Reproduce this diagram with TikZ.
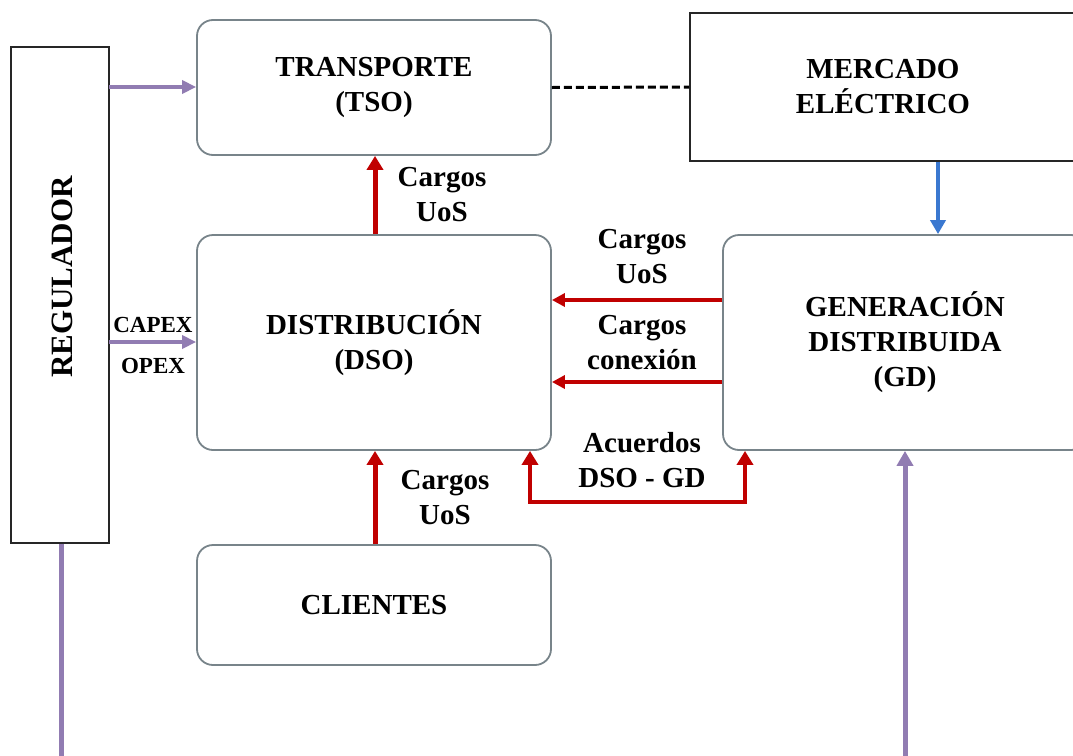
\documentclass[tikz,border=0pt]{standalone}
\usepackage{fontspec}
\setmainfont{Liberation Serif}
\usetikzlibrary{arrows.meta}
\definecolor{boxgray}{RGB}{120,132,138}
\definecolor{redarr}{RGB}{192,0,0}
\definecolor{purarr}{RGB}{145,124,178}
\definecolor{bluearr}{RGB}{58,120,208}
\tikzset{
  rbox/.style={draw=boxgray, line width=1.8pt, rounded corners=16pt, fill=white, inner sep=0pt, align=center, font=\fontsize{29}{35}\selectfont\bfseries},
  sbox/.style={draw=black!85, line width=1.6pt, fill=white, inner sep=0pt, align=center, font=\fontsize{29}{35}\selectfont\bfseries},
  lbl/.style={inner sep=0pt, align=center, font=\fontsize{29}{35}\selectfont\bfseries},
  slbl/.style={inner sep=0pt, align=center, font=\fontsize{23}{28}\selectfont\bfseries},
  redarrow/.style={draw=redarr, line width=5pt, -{Triangle[length=14pt,width=16pt]}},
  redthin/.style={draw=redarr, line width=3.5pt, -{Triangle[length=13pt,width=13pt]}},
  redboth/.style={draw=redarr, line width=4pt, {Triangle[length=14pt,width=16pt]}-{Triangle[length=14pt,width=16pt]}},
  purarrow/.style={draw=purarr, line width=4pt, -{Triangle[length=14pt,width=13pt]}},
  purup/.style={draw=purarr, line width=5pt, -{Triangle[length=15pt,width=16pt]}},
  purline/.style={draw=purarr, line width=5pt},
  bluearrow/.style={draw=bluearr, line width=4pt, -{Triangle[length=14pt,width=15pt]}},
  dashline/.style={draw=black, line width=3pt, dash pattern=on 8pt off 4pt},
}
\begin{document}
\begin{tikzpicture}[x=1pt,y=-1pt]
\clip (0,0) rectangle (1073,755);
\fill[white] (0,0) rectangle (1073,755);
% boxes
\node[sbox, minimum width=98pt, minimum height=496pt] (reg) at (60,295) {};
\node[lbl, rotate=90, font=\fontsize{31}{36}\selectfont\bfseries] (regtxt) at (62,277) {REGULADOR};
\node[rbox, minimum width=354pt, minimum height=135pt] (trans) at (374,87.5) {TRANSPORTE\\(TSO)};
\node[sbox, minimum width=386pt, minimum height=148pt] (merc) at (883,87) {MERCADO\\ELÉCTRICO};
\node[rbox, minimum width=354pt, minimum height=215pt] (dist) at (374,342.5) {DISTRIBUCIÓN\\(DSO)};
\node[rbox, minimum width=364pt, minimum height=215pt] (gd) at (905,342.5) {GENERACIÓN\\DISTRIBUIDA\\(GD)};
\node[rbox, minimum width=354pt, minimum height=120pt] (cli) at (374,605) {CLIENTES};
% coordinates
\coordinate (regtop) at (109,87);
\coordinate (regmid) at (109,342);
\coordinate (regend) at (61,760);
\coordinate (gdstart) at (905,760);
\coordinate (bx) at (938,0);
\coordinate (ux) at (375,0);
\coordinate (y1) at (0,300);
\coordinate (y2) at (0,382);
\coordinate (bl) at (530,502);
\coordinate (br) at (745,502);
% purple
\draw[purarrow] (regtop) -- (regtop -| trans.west);
\draw[purarrow] (regmid) -- (regmid -| dist.west);
\draw[purline] (reg.south -| regend) -- (regend);
\draw[purup] (gdstart) -- (gdstart |- gd.south);
% dashed
\draw[dashline] (trans.east) -- (merc.west);
% blue
\draw[bluearrow] (bx |- merc.south) -- (bx |- gd.north);
% red
\draw[redarrow] (ux |- dist.north) -- (ux |- trans.south);
\draw[redarrow] (ux |- cli.north) -- (ux |- dist.south);
\draw[redthin] (gd.west |- y1) -- (dist.east |- y1);
\draw[redthin] (gd.west |- y2) -- (dist.east |- y2);
\draw[redboth] (bl |- dist.south) -- (bl) -- (br) -- (br |- gd.south);
% labels
\node[lbl] (l1) at (442,195) {Cargos\\UoS};
\node[lbl] (l2) at (445,498) {Cargos\\UoS};
\node[lbl] (l3) at (642,257) {Cargos\\UoS};
\node[lbl] (l4) at (642,343) {Cargos\\conexión};
\node[lbl] (l5) at (642,460) {Acuerdos\\DSO - GD};
\node[slbl] (capex) at (153,325) {CAPEX};
\node[slbl] (opex) at (153,366) {OPEX};
\end{tikzpicture}
\end{document}
